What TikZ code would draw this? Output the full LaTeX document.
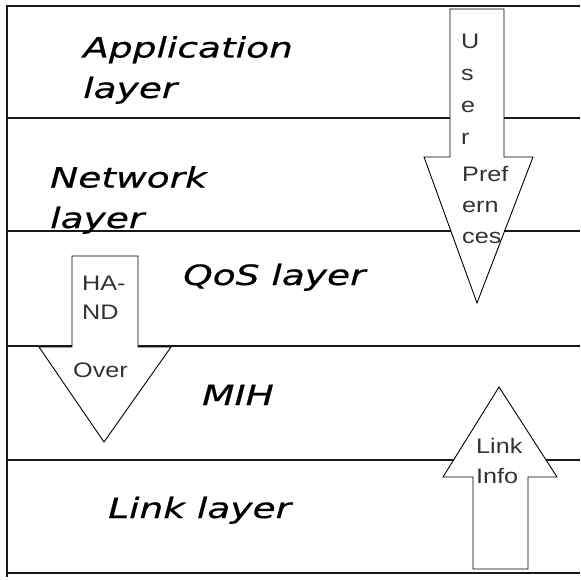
\documentclass[tikz,border=0pt]{standalone}
\usepackage{fontspec}
\newfontfamily\bigf[FakeStretch=1.34,FakeBold=0.6]{DejaVu Sans}
\newfontfamily\smallf[FakeStretch=1.2]{Liberation Sans}
\begin{document}
\begin{tikzpicture}[x=1pt,y=-1pt,
  frameline/.style={draw=black!90, line width=1.1pt},
  bigarrow/.style={draw=black, fill=white, line width=0.9pt, line join=miter},
  layertext/.style={anchor=base west, inner sep=0pt, align=left, text=black,
    font=\bigf\itshape\fontsize{28}{40.5}\selectfont},
  arrowtext/.style={anchor=base west, inner sep=0pt, align=left, text=black!80,
    font=\smallf\fontsize{21}{31}\selectfont}]
\useasboundingbox (0,0) rectangle (580,580);
% frame
\draw[frameline] (580,6) -- (7,6) -- (7,577);
\foreach \yy in {118,231,346,460,573}
  \draw[frameline] (7,\yy) -- (580,\yy);
% arrows
\draw[bigarrow] (450,9) -- (504,9) -- (504,157) -- (533,157) -- (477,303) -- (424,157) -- (450,157) -- cycle;
\draw[bigarrow] (72,256) -- (138,256) -- (138,347) -- (171,347) -- (104,442) -- (39,347) -- (72,347) -- cycle;
\draw[bigarrow] (473,569) -- (528,569) -- (528,477) -- (557,477) -- (499,387) -- (443,477) -- (473,477) -- cycle;
% layer labels (base anchor = baseline of last line)
\node[layertext] (app) at (83,98) {Application\\layer};
\node[layertext] (net) at (50,228) {Network\\layer};
\node[layertext] (qos) at (183,285) {QoS layer};
\node[layertext] (mih) at (202,405) {MIH};
\node[layertext] (link) at (108,518) {Link layer};
% arrow labels
\node[arrowtext, font=\smallf\fontsize{21}{32}\selectfont] (user) at (461,145) {U\\s\\e\\r};
\node[arrowtext] (pref) at (462,243) {Pref\\ern\\ces};
\node[arrowtext, font=\smallf\fontsize{21}{29}\selectfont] (hand) at (82,319) {HA-\\ND};
\node[arrowtext] (over) at (73,377) {Over};
\node[arrowtext, font=\smallf\fontsize{21}{30}\selectfont] (info) at (476,483) {Link\\Info};
\end{tikzpicture}
\end{document}
